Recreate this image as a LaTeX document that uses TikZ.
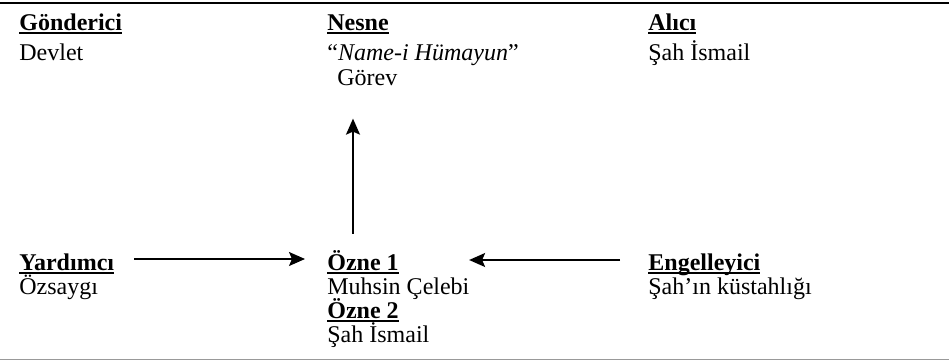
\documentclass[tikz,border=0pt]{standalone}
\usepackage{fontspec}
\setmainfont{Liberation Serif}
\usetikzlibrary{arrows.meta}

% bold heading with a plain rule under it
\newcommand{\ulbaslik}[1]{\setbox0=\hbox{\textbf{#1}}\rlap{\rule[-2pt]{\wd0}{0.9pt}}\box0}

\begin{document}
\begin{tikzpicture}[x=0.5pt, y=-0.5pt,
    yazi/.style={anchor=base west, inner sep=0pt, font=\fontsize{12pt}{12pt}\selectfont},
    ok/.style={line width=0.8pt, -{Stealth[length=8pt,width=7pt,inset=1.5pt]}}]

          \useasboundingbox (0,0) rectangle (949,360);
          \draw[line width=1pt] (0,3) -- (949,3);
          \draw[line width=0.6pt, black!40] (0,359.5) -- (949,359.5);

          % ust sira
          \node[yazi] (gonderici) at (19,30) {\ulbaslik{Gönderici}};
          \node[yazi] (devlet) at (19,60) {Devlet};
          \node[yazi] (nesne) at (327,30) {\ulbaslik{Nesne}};
          \node[yazi] (name) at (327,60) {“\textit{Name-i Hümayun}”};
          \node[yazi] (gorev) at (337,85) {Görev};
          \node[yazi] (alici) at (648,30) {\ulbaslik{Alıcı}};
          \node[yazi] (sah1) at (648,60) {Şah İsmail};

          % alt sira
          \node[yazi] (yardimci) at (19,270) {\ulbaslik{Yardımcı}};
          \node[yazi] (ozsaygi) at (19,294) {Özsaygı};
          \node[yazi] (ozne1) at (327,270) {\ulbaslik{Özne 1}};
          \node[yazi] (muhsin) at (327,294) {Muhsin Çelebi};
          \node[yazi] (ozne2) at (327,318) {\ulbaslik{Özne 2}};
          \node[yazi] (sah2) at (327,342) {Şah İsmail};
          \node[yazi] (engel) at (648,270) {\ulbaslik{Engelleyici}};
          \node[yazi] (kustah) at (648,294) {Şah’ın küstahlığı};

          \draw[ok] ([xshift=13pt,yshift=8pt]ozne1.north west) -- ([xshift=8pt,yshift=-16.5pt]gorev.south west);
          \draw[ok] ([xshift=10pt,yshift=5.5pt]yardimci.base east) -- ([xshift=-11pt,yshift=5.5pt]ozne1.base west);
          \draw[ok] ([xshift=-14pt,yshift=5pt]engel.base west) -- ([xshift=35pt,yshift=5pt]ozne1.base east);
        \end{tikzpicture}
\end{document}
